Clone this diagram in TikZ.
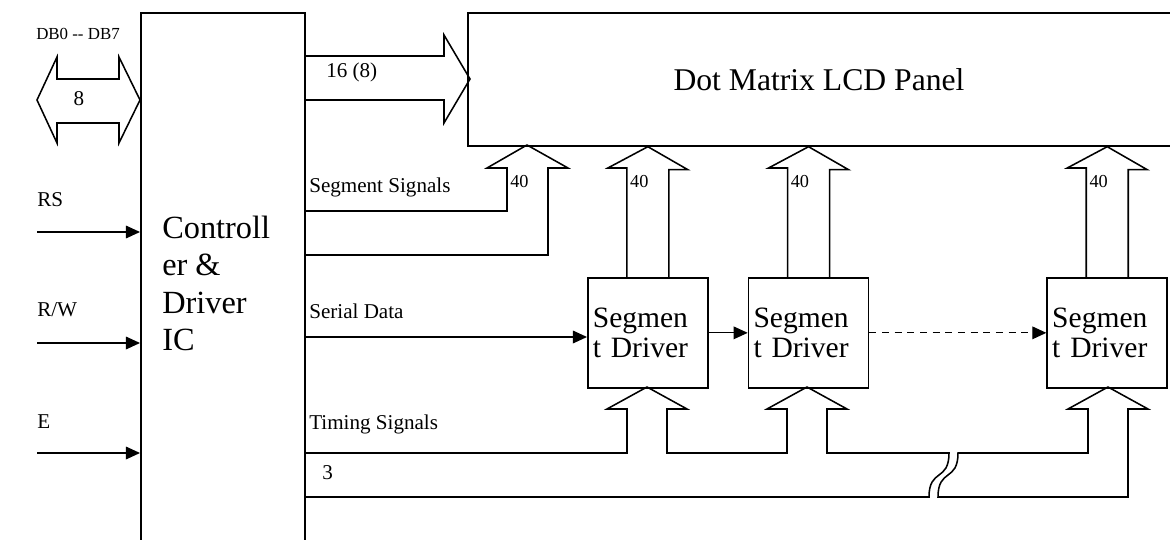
\documentclass[tikz,border=0pt]{standalone}
\usepackage{fontspec}
\setmainfont{Liberation Serif}
\usetikzlibrary{arrows.meta, positioning, calc}

\begin{document}
\begin{tikzpicture}[x=0.025cm, y=-0.025cm, node distance=1cm,
    box/.style={draw, line width=1.2pt, inner sep=0pt},
    drvbox/.style={box, minimum width=120*0.025cm, minimum height=110*0.025cm, text width=110*0.025cm, align=left, font=\fontsize{21}{21}\selectfont},
    bigtxt/.style={font=\fontsize{23}{26.5}\selectfont, align=left, inner sep=0pt},
    lbl/.style={font=\fontsize{15}{16}\selectfont, inner sep=0pt},
    numlbl/.style={font=\fontsize{13}{14}\selectfont, inner sep=0pt},
    bus/.style={draw, line width=1.1pt, line join=miter},
    line/.style={draw, -{Triangle[length=10pt,width=9pt]}, line width=0.9pt}
]
    \useasboundingbox (0,0) rectangle (1170,539);
    \clip (0,0) rectangle (1170,539);

    % blocks
    \node [box, anchor=north west, minimum width=164*0.025cm, minimum height=560*0.025cm] (ctrl) at (140,12) {};
    \node [bigtxt, anchor=north west] (ctrltxt) at (162,216) {Controll\\er \&\\Driver\\IC};
    \node [box, anchor=north west, minimum width=760*0.025cm, minimum height=133*0.025cm] (lcd) at (467,12) {};
    \node [font=\fontsize{22.5}{24}\selectfont] (lcdtxt) at (819,80) {Dot Matrix LCD Panel};
    \node [drvbox, anchor=north west] (drv1) at (587,277) {Segmen\\t Driver};
    \node [drvbox, right=39*0.025cm of drv1] (drv2) {Segmen\\t Driver};
    \node [drvbox, right=177*0.025cm of drv2] (drv3) {Segmen\\t Driver};

    % data bus DB0--DB7
    \draw [bus] (37,100) -- (57,57) -- (57,79) -- (119,79) -- (119,57) -- (140,100) -- (119,143) -- (119,123) -- (57,123) -- (57,143) -- cycle;
    \node [lbl, font=\fontsize{12}{14}\selectfont, anchor=west] (dblbl) at (36,34) {DB0 -{}- DB7};
    \node [lbl] (dbw) at (79,99) {8};

    % bus to the panel
    \draw [bus] (304,56) -- (444,56) -- (444,35) -- (470,79) -- (444,123) -- (444,100) -- (304,100);
    \node [lbl, anchor=west] (pbw) at (326,72) {16 (8)};

    % segment signals from the controller
    \draw [bus] (304,211) -- (507,211) -- (507,168) -- (487,168) -- (527,145) -- (568,168) -- (548,168) -- (548,255) -- (304,255);
    \node [numlbl, anchor=west] (segw) at (510,182) {40};
    \node [lbl, anchor=west] (seglbl) at (309,187) {Segment Signals};

    % segment outputs of the drivers
    \foreach \d in {drv1,drv2,drv3} {
        \draw [bus] ($(\d.north)+(-21,0)$) -- ++(0,-109) -- ++(-19,0) -- (\d.north |- lcd.south) -- ++(40,23) -- ++(-19,0) -- ++(0,109);
        \node [numlbl, anchor=west] at ($(\d.north)+(-18,-95)$) {40};
    }

    % timing signals
    \draw [bus] (304,453) -- (627,453) -- (627,409) -- (607,409) -- (647,387) -- (687,409) -- (667,409) -- (667,453)
        -- (787,453) -- (787,409) -- (767,409) -- (807,387) -- (847,409) -- (827,409) -- (827,453) -- (949,453)
        .. controls (949,482) and (929,468) .. (929,497) -- (304,497);
    \draw [bus] (958,453) .. controls (958,482) and (938,468) .. (938,497) -- (1128,497) -- (1128,409) -- (1148,409)
        -- (1108,387) -- (1068,409) -- (1088,409) -- (1088,453) -- cycle;
    \node [lbl, anchor=west] (timlbl) at (309,424) {Timing Signals};
    \node [lbl, anchor=west] (timw) at (322,473) {3};

    % control inputs
    \coordinate (rsin) at (37,232);
    \coordinate (rwin) at (37,343);
    \coordinate (ein) at (37,453);
    \node [lbl, anchor=west] (rslbl) at (37,200) {RS};
    \node [lbl, anchor=west] (rwlbl) at (37,310) {R/W};
    \node [lbl, anchor=west] (elbl) at (37,422) {E};
    \path [line] (rsin) -- (rsin -| ctrl.west);
    \path [line] (rwin) -- (rwin -| ctrl.west);
    \path [line] (ein) -- (ein -| ctrl.west);

    % serial data chain
    \coordinate (sdout) at (304,337);
    \node [lbl, anchor=west] (serlbl) at (309,311) {Serial Data};
    \path [line] (sdout) -- (sdout -| drv1.west);
    \path [line] (drv1) -- (drv2);
    \path [line, dash pattern=on 5pt off 4pt] (drv2) -- (drv3);
\end{tikzpicture}
\end{document}
